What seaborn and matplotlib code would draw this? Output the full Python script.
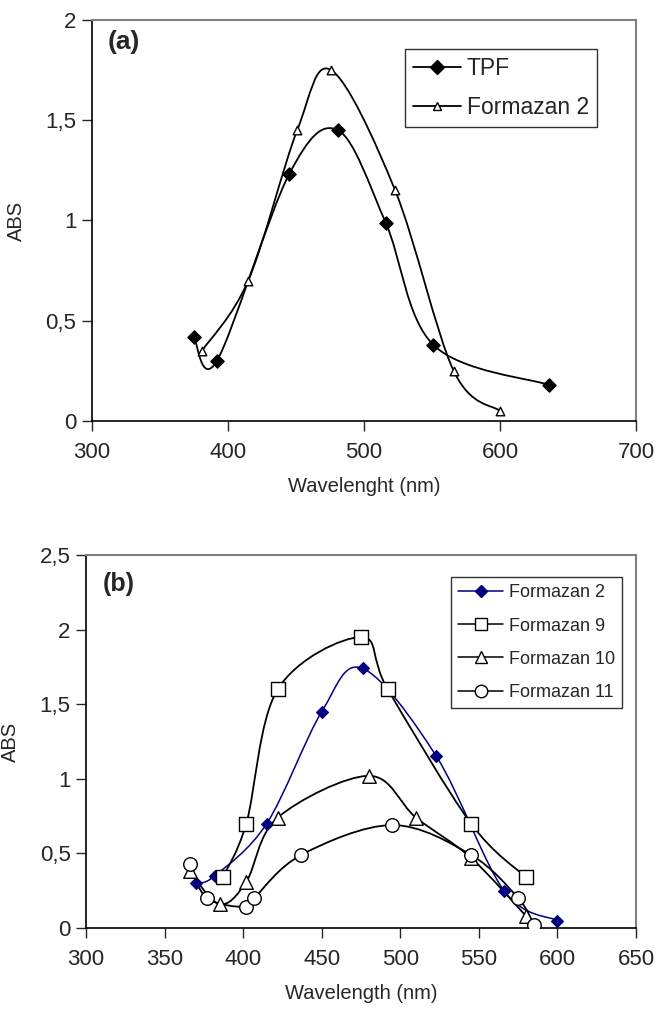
import numpy as np
import pandas as pd
import matplotlib
matplotlib.use("Agg")
import matplotlib.pyplot as plt
import seaborn as sns
from matplotlib.path import Path
from matplotlib.patches import PathPatch
from matplotlib.lines import Line2D
from matplotlib.ticker import FuncFormatter

# 데이터 (a)
tpf_x = [375, 392, 445, 481, 516, 551, 636]
tpf_y = [0.42, 0.30, 1.23, 1.45, 0.99, 0.38, 0.18]
f2a_x = [381, 415, 451, 476, 523, 566, 600]
f2a_y = [0.35, 0.70, 1.45, 1.75, 1.15, 0.25, 0.05]

# 데이터 (b)
f2_x = [370, 382, 415, 450, 476, 523, 566, 600]
f2_y = [0.30, 0.35, 0.70, 1.45, 1.74, 1.15, 0.25, 0.05]
f9_x = [387, 402, 422, 475, 492, 545, 580]
f9_y = [0.34, 0.70, 1.60, 1.95, 1.60, 0.70, 0.34]
f10_x = [366, 385, 402, 422, 480, 510, 545, 580]
f10_y = [0.38, 0.16, 0.31, 0.74, 1.02, 0.74, 0.47, 0.08]
f11_x = [366, 377, 402, 407, 437, 495, 545, 575, 585]
f11_y = [0.43, 0.20, 0.14, 0.20, 0.49, 0.69, 0.49, 0.20, 0.02]

sns.set_style("white")
plt.rcParams["font.family"] = ["Liberation Sans", "DejaVu Sans"]

NAVY = "#000080"


def smooth_path(x, y):
    # 엑셀식 부드러운 선 (Catmull-Rom -> Bezier)
    pts = np.column_stack([x, y]).astype(float)
    n = len(pts)
    verts = [pts[0]]
    codes = [Path.MOVETO]
    for i in range(n - 1):
        p0 = pts[max(i - 1, 0)]
        p1 = pts[i]
        p2 = pts[i + 1]
        p3 = pts[min(i + 2, n - 1)]
        verts += [p1 + (p2 - p0) / 6, p2 - (p3 - p1) / 6, p2]
        codes += [Path.CURVE4] * 3
    return Path(verts, codes)


def draw_series(ax, x, y, marker, size, face, edge, line_color, lw=1.3):
    ax.add_patch(PathPatch(smooth_path(x, y), facecolor="none",
                           edgecolor=line_color, lw=lw, zorder=2))
    df = pd.DataFrame({"x": x, "y": y})
    sns.scatterplot(data=df, x="x", y="y", ax=ax, marker=marker, s=size,
                    color=face, edgecolor=edge, linewidth=1.0, zorder=3)


comma = FuncFormatter(lambda v, _: f"{v:g}".replace(".", ","))


def style_axes(ax, xlim, xstep, ylim, ystep, xlabel):
    ax.set_xlim(*xlim)
    ax.set_ylim(*ylim)
    ax.set_xticks(np.arange(xlim[0], xlim[1] + 1, xstep))
    ax.set_yticks(np.arange(ylim[0], ylim[1] + 0.01, ystep))
    ax.yaxis.set_major_formatter(comma)
    ax.tick_params(direction="out", length=7, width=1, labelsize=16,
                   bottom=True, left=True)
    ax.tick_params(axis="x", pad=8)
    ax.tick_params(axis="y", pad=4)
    for s in ["left", "bottom"]:
        ax.spines[s].set_color("black")
        ax.spines[s].set_linewidth(1.2)
    for s in ["top", "right"]:
        ax.spines[s].set_color("#808080")
        ax.spines[s].set_linewidth(1.5)
    ax.set_xlabel(xlabel, fontsize=14.5, labelpad=10)
    ax.set_ylabel("ABS", fontsize=14.5, labelpad=14)


fig = plt.figure(figsize=(6.58, 10.11), dpi=100)
ax1 = fig.add_axes([0.1394, 0.5836, 0.8272, 0.3966])
ax2 = fig.add_axes([0.1307, 0.0821, 0.8359, 0.3689])

# (a)
draw_series(ax1, tpf_x, tpf_y, "D", 45, "black", "black", "black")
draw_series(ax1, f2a_x, f2a_y, "^", 38, "white", "black", "black")
style_axes(ax1, (300, 700), 100, (0, 2), 0.5, "Wavelenght (nm)")
ax1.text(0.03, 0.975, "(a)", transform=ax1.transAxes, fontsize=19,
         fontweight="bold", va="top", ha="left")
h_a = [
    Line2D([], [], color="black", lw=1.3, marker="D", ms=7, mfc="black", mec="black"),
    Line2D([], [], color="black", lw=1.3, marker="^", ms=6, mfc="white", mec="black"),
]
ax1.legend(h_a, ["TPF", "Formazan 2"], loc="upper right",
           bbox_to_anchor=(0.928, 0.928), fontsize=16.5, frameon=True,
           fancybox=False, edgecolor="black", handlelength=2.1,
           handletextpad=0.25, borderpad=0.35, labelspacing=0.7,
           borderaxespad=0)

# (b)
draw_series(ax2, f2_x, f2_y, "D", 35, NAVY, NAVY, NAVY, lw=1.1)
draw_series(ax2, f9_x, f9_y, "s", 95, "white", "black", "black")
draw_series(ax2, f10_x, f10_y, "^", 95, "white", "black", "black")
draw_series(ax2, f11_x, f11_y, "o", 95, "white", "black", "black")
style_axes(ax2, (300, 650), 50, (0, 2.5), 0.5, "Wavelength (nm)")
ax2.text(0.03, 0.955, "(b)", transform=ax2.transAxes, fontsize=18,
         fontweight="bold", va="top", ha="left")
h_b = [
    Line2D([], [], color=NAVY, lw=1.1, marker="D", ms=6, mfc=NAVY, mec=NAVY),
    Line2D([], [], color="black", lw=1.1, marker="s", ms=9, mfc="white", mec="black"),
    Line2D([], [], color="black", lw=1.1, marker="^", ms=9, mfc="white", mec="black"),
    Line2D([], [], color="black", lw=1.1, marker="o", ms=9, mfc="white", mec="black"),
]
ax2.legend(h_b, ["Formazan 2", "Formazan 9", "Formazan 10", "Formazan 11"],
           loc="upper right", bbox_to_anchor=(0.9745, 0.941), fontsize=13,
           frameon=True, fancybox=False, edgecolor="black", handlelength=2.5,
           handletextpad=0.3, borderpad=0.4, labelspacing=0.9,
           borderaxespad=0)

fig.savefig("out.png", dpi=100)
